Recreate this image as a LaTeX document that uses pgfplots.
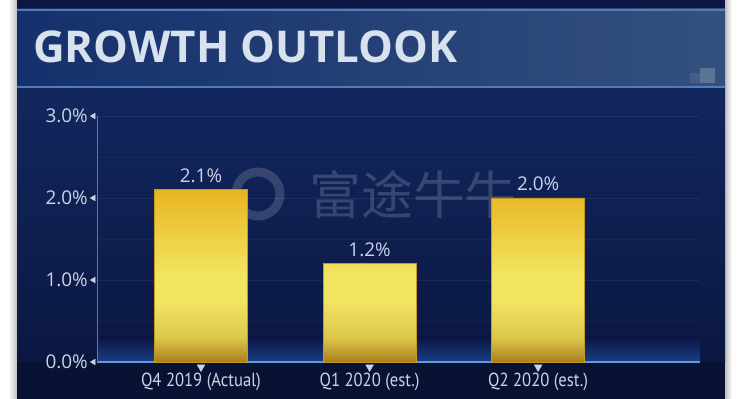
\documentclass[border=0pt]{standalone}
\usepackage{pgfplots}
\pgfplotsset{compat=1.18}
\usepackage{fontspec}
\setmainfont{Open Sans}
\newfontfamily\labelfont[FakeStretch=0.88]{PT Sans}
\newfontfamily\cjk{Noto Sans CJK SC}
\definecolor{navytop}{HTML}{12275E}
\definecolor{navybot}{HTML}{0B1742}
\definecolor{navydeep}{HTML}{081232}
\definecolor{glow}{HTML}{1C4290}
\definecolor{bandL}{HTML}{15306C}
\definecolor{bandR}{HTML}{34507E}
\definecolor{bandline}{HTML}{4F7DB6}
\definecolor{titletext}{HTML}{D8E2EE}
\definecolor{ticktext}{HTML}{C9D5E6}
\definecolor{gold1}{HTML}{E8B520}
\definecolor{gold2}{HTML}{F2E562}
\definecolor{gold3}{HTML}{A97F1A}
\definecolor{goldedge}{HTML}{C69A22}
\definecolor{baseblue}{HTML}{6A9AD6}
\definecolor{yaxis}{HTML}{5F77A3}
\pgfdeclareverticalshading{goldbar}{100bp}{color(0bp)=(gold3); color(25bp)=(gold3); color(32bp)=(gold2!70!gold3); color(43bp)=(gold2); color(50bp)=(gold2); color(75bp)=(gold1); color(100bp)=(gold1)}
\begin{document}
\begin{tikzpicture}[x=1bp,y=1bp]
\useasboundingbox (0bp,0bp) rectangle (750bp,399bp);
\fill[white] (0bp,0bp) rectangle (750bp,399bp);
\shade[left color=white, right color=black!25] (8bp,0bp) rectangle (17bp,399bp);
\shade[left color=black!25, right color=white] (725bp,0bp) rectangle (732bp,399bp);
\shade[top color=navytop, bottom color=navybot] (17bp,37bp) rectangle (725bp,311bp);
\fill[navydeep] (17bp,0bp) rectangle (725bp,37bp);
\shade[top color=navybot, bottom color=glow, opacity=0.9] (97bp,37bp) rectangle (700bp,62bp);
\fill[navybot] (17bp,311bp) rectangle (725bp,399bp);
\shade[left color=bandL, right color=bandR] (17bp,311bp) rectangle (725bp,390bp);
\draw[bandline, line width=2bp] (17bp,389bp) -- (725bp,389bp);
\draw[bandline, line width=2bp] (17bp,312bp) -- (725bp,312bp);
\fill[bandR!60!white, opacity=0.5] (700bp,316bp) rectangle (715bp,331bp);
\fill[bandR!80!white, opacity=0.4] (690bp,316bp) rectangle (700bp,326bp);
\node[anchor=west, inner sep=0, text=titletext, font=\bfseries\fontsize{44}{46}\selectfont] at (33bp,352bp) {GROWTH OUTLOOK};
% watermark
\draw[white, opacity=0.16, line width=9bp] (258bp,205bp) circle (22bp);
\node[anchor=center, inner sep=0, text=white, opacity=0.17, font=\cjk\fontsize{52}{54}\selectfont] at (413bp,204bp) {富途牛牛};
\begin{axis}[
  at={(201bp,37bp)}, anchor=origin, scale only axis,
  width=603bp, height=246bp,
  xmin=-0.617, xmax=2.96, ymin=0, ymax=3,
  axis x line*=bottom, axis y line*=left,
  x axis line style={draw=baseblue, line width=1.6bp},
  y axis line style={draw=yaxis, line width=0.8bp},
  major tick length=0, minor tick length=0,
  ytick={0,1,2,3},
  yticklabels={0.0\%,1.0\%,2.0\%,3.0\%},
  yticklabel style={text=ticktext, font=\fontsize{19}{20}\selectfont, anchor=east, xshift=-9bp, inner sep=0},
  xtick={0,1,2},
  xticklabels={{Q4 2019 (Actual)},{Q1 2020 (est.)},{Q2 2020 (est.)}},
  xticklabel style={text=ticktext, font=\labelfont\fontsize{19}{20}\selectfont, anchor=north, yshift=-11bp, inner sep=0},
  ymajorgrids, minor ytick={0.5,1.5,2.5}, yminorgrids,
  grid style={white, opacity=0.06, line width=0.6bp},
  minor grid style={white, opacity=0.04, line width=0.6bp},
  /pgf/number format/assume math mode=true,
  clip=false,
]
\addplot[ybar, bar width=93bp, draw=goldedge, line width=0.6bp, shading=goldbar,
  nodes near coords={\pgfmathprintnumber[fixed,fixed zerofill,precision=1]{\pgfplotspointmeta}\%},
  every node near coord/.append style={text=ticktext, font=\fontsize{19}{20}\selectfont, anchor=south, inner sep=0, yshift=7bp}]
  coordinates {(0,2.1) (1,1.2) (2,2.0)};
\addplot[only marks, color=ticktext, mark=triangle*, mark size=4.5bp, mark options={yshift=-5bp, rotate=180, draw=none, fill=ticktext}] coordinates {(0,0) (1,0) (2,0)};
\addplot[only marks, color=ticktext, mark=triangle*, mark size=3.2bp, mark options={xshift=-3.5bp, rotate=90, draw=none, fill=ticktext}] coordinates {(-0.617,0) (-0.617,1) (-0.617,2) (-0.617,3)};
\end{axis}
\end{tikzpicture}
\end{document}
